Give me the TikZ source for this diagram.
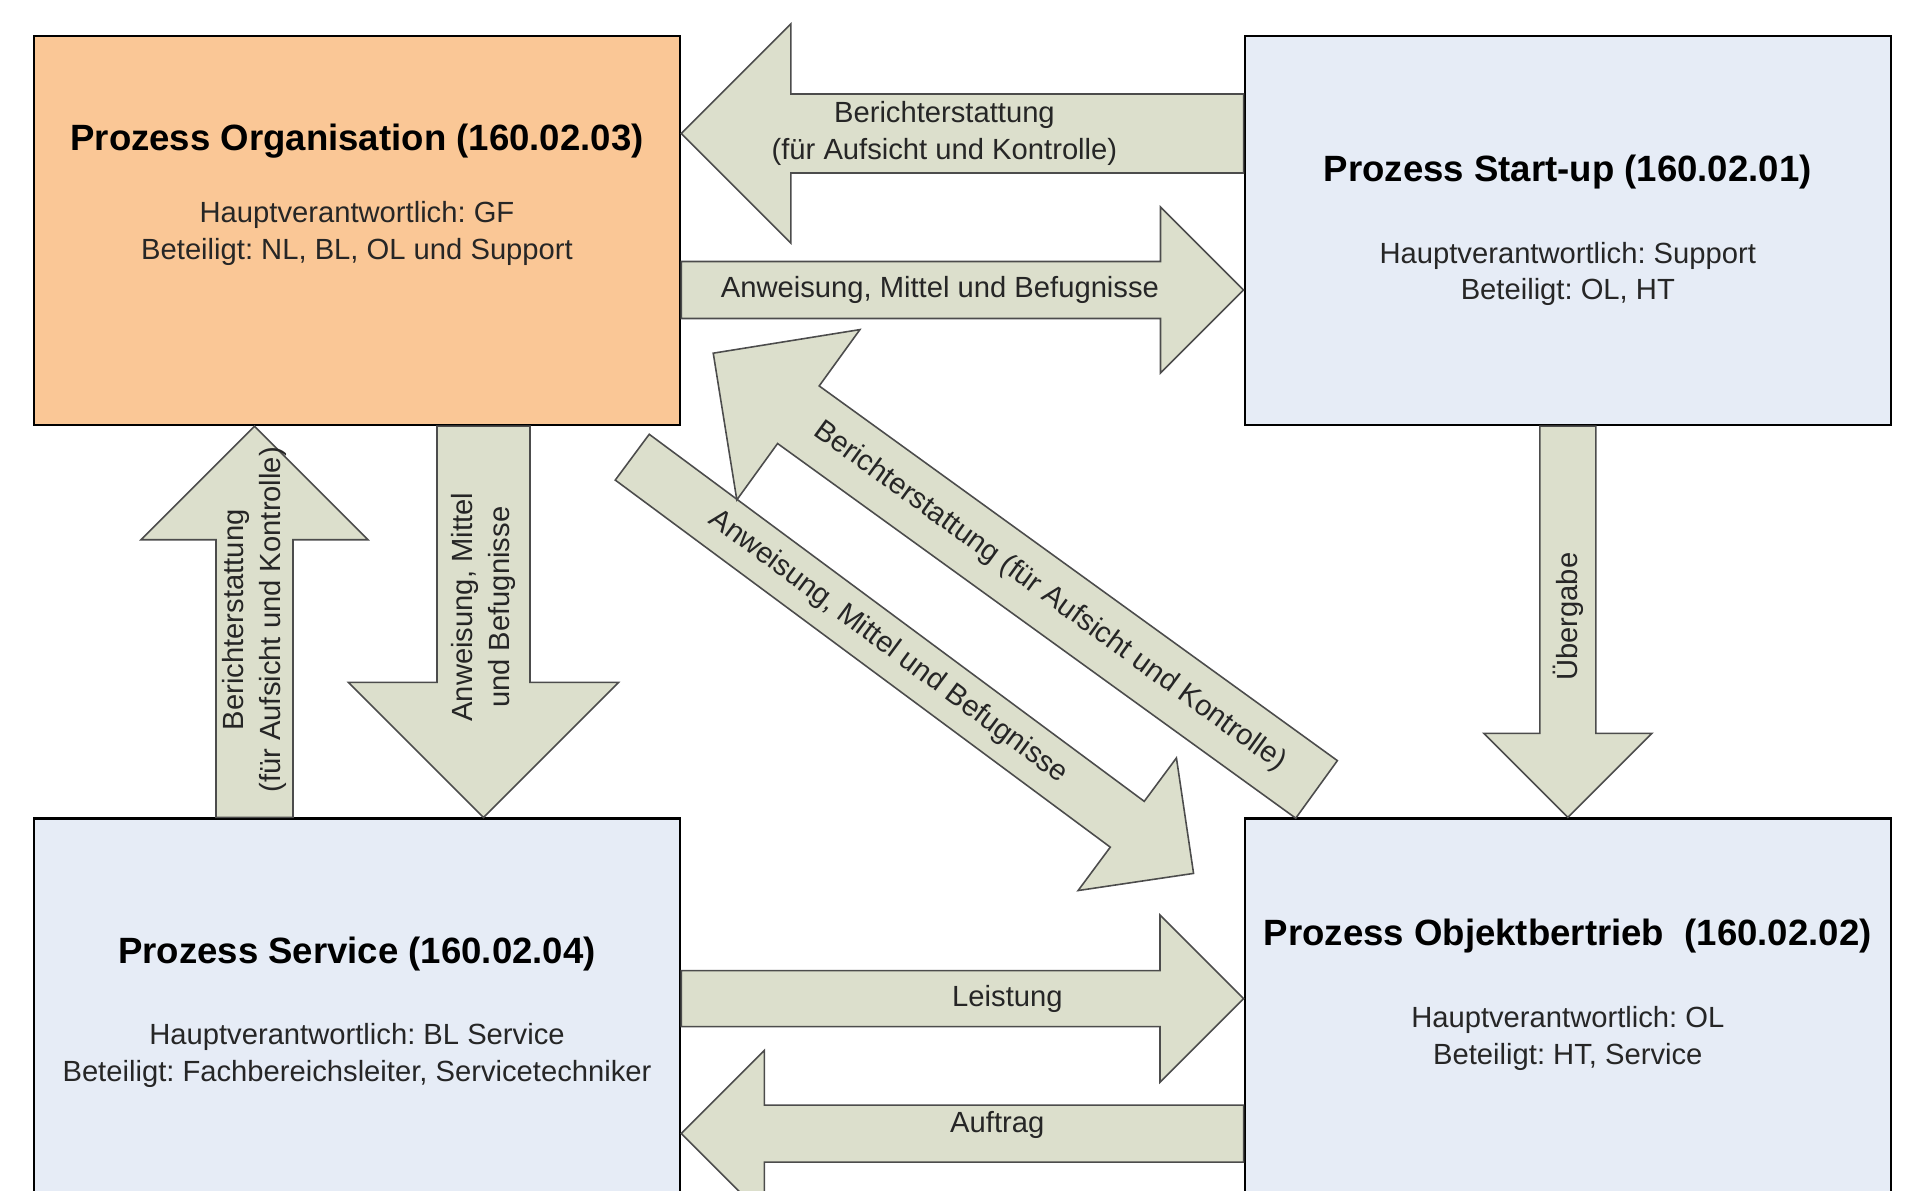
\documentclass[tikz,border=0pt]{standalone}
\usepackage{fontspec}
\setmainfont{Liberation Sans}
\usepackage{xcolor}
\usetikzlibrary{positioning, calc}
\frenchspacing

\definecolor{orgfill}{RGB}{250,199,150}
\definecolor{procfill}{RGB}{230,236,246}
\definecolor{flowfill}{RGB}{220,223,204}

% block arrow: label name, tail, tip, half shaft, half head, label pos, label angle, label
\newcommand{\flowarrow}[8]{%
  \coordinate (ft) at #2;
  \coordinate (fp) at #3;
  \coordinate (fb) at ($(fp)!#5!(ft)$);
  \draw[flow] ($(ft)!#4!90:(fp)$) -- ($(fb)!#4!90:(fp)$) -- ($(fb)!#5!90:(fp)$) -- (fp)
    -- ($(fb)!#5!-90:(fp)$) -- ($(fb)!#4!-90:(fp)$) -- ($(ft)!#4!-90:(fp)$) -- cycle;
  \path (ft) -- node[lbl, pos=#6, rotate=#7] (#1) {#8} (fp);
}

\begin{document}
\begin{tikzpicture}[
    x=0.01cm, y=-0.01cm,
    proc/.style={rectangle, draw, line width=0.6pt, minimum width=6.46cm, minimum height=3.89cm, inner sep=0pt, fill=procfill},
    ttl/.style={font=\fontsize{10.4}{12.5}\selectfont\bfseries},
    info/.style={align=center, font=\fontsize{8.3}{10.4}\selectfont, text=black!85},
    flow/.style={fill=flowfill, draw=black!70, line width=0.45pt, line join=miter},
    lbl/.style={align=center, inner sep=0pt, font=\fontsize{8.3}{10.4}\selectfont, text=black!85}
]
    \useasboundingbox (0,0) rectangle (1905,1190);
    \clip (0,0) rectangle (1905,1190);

    % Process boxes
    \node[proc, fill=orgfill] (org) at (357,230.5) {};
    \node[proc, right=5.62cm of org] (start) {};
    \node[proc, below=3.91cm of org] (serv) {};
    \node[proc, right=5.62cm of serv] (obj) {};

    \node[ttl] (orgT) at ($(org.north)+(0,106)$) {Prozess Organisation (160.02.03)};
    \node[info] (orgI) at ($(org.north)+(0,198.5)$) {Hauptverantwortlich: GF\\Beteiligt: NL, BL, OL und Support};
    \node[ttl] (startT) at ($(start.north)+(0,137)$) {Prozess Start-up (160.02.01)};
    \node[info] (startI) at ($(start.north)+(0,239)$) {Hauptverantwortlich: Support\\Beteiligt: OL, HT};
    \node[ttl] (servT) at ($(serv.north)+(0,137)$) {Prozess Service (160.02.04)};
    \node[info] (servI) at ($(serv.north)+(0,238)$) {Hauptverantwortlich: BL Service\\Beteiligt: Fachbereichsleiter, Servicetechniker};
    \node[ttl] (objT) at ($(obj.north)+(0,118.5)$) {Prozess Objektbertrieb\ \ (160.02.02)};
    \node[info] (objI) at ($(obj.north)+(0,221)$) {Hauptverantwortlich: OL\\Beteiligt: HT, Service};

    % Organisation <-> Start-up
    \flowarrow{bsO}{($(start.west)+(0,-97)$)}{($(org.east)+(0,-97)$)}{0.395cm}{1.095cm}{0.532}{0}{Berichterstattung\\(für Aufsicht und Kontrolle)}
    \flowarrow{aoS}{($(org.east)+(0,59.5)$)}{($(start.west)+(0,59.5)$)}{0.285cm}{0.83cm}{0.46}{0}{Anweisung, Mittel und Befugnisse}

    % Organisation <-> Service
    \flowarrow{bvO}{($(serv.north)+(-102.5,0)$)}{($(org.south)+(-102.5,0)$)}{0.385cm}{1.135cm}{0.505}{90}{Berichterstattung\\(für Aufsicht und Kontrolle)}
    \flowarrow{aoV}{($(org.south)+(126.5,0)$)}{($(serv.north)+(126.5,0)$)}{0.465cm}{1.35cm}{0.463}{90}{Anweisung, Mittel\\und Befugnisse}

    % Organisation <-> Objektbetrieb
    \flowarrow{aoB}{($(org.south east)+(-49,31)$)}{($(obj.north west)+(-50,56)$)}{0.285cm}{0.825cm}{0.456}{-36.6}{Anweisung, Mittel und Befugnisse}
    \flowarrow{bbO}{($(obj.north west)+(73,-28)$)}{($(org.south east)+(32,-73)$)}{0.355cm}{1.05cm}{0.442}{-35.9}{Berichterstattung (für Aufsicht und Kontrolle)}

    % Start-up -> Objektbetrieb
    \flowarrow{ueB}{(start.south)}{(obj.north)}{0.28cm}{0.84cm}{0.487}{90}{Übergabe}

    % Service <-> Objektbetrieb
    \flowarrow{lvB}{($(serv.east)+(0,-14.5)$)}{($(obj.west)+(0,-14.5)$)}{0.28cm}{0.835cm}{0.58}{0}{Leistung}
    \flowarrow{abV}{($(obj.west)+(0,120.5)$)}{($(serv.east)+(0,120.5)$)}{0.285cm}{0.83cm}{0.438}{0, yshift=2.5pt}{Auftrag}
\end{tikzpicture}
\end{document}
